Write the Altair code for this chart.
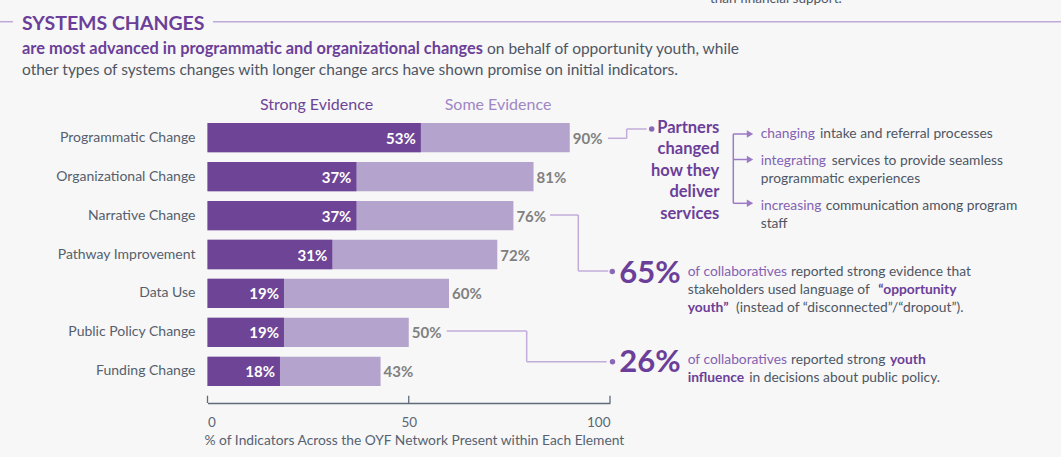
import altair as alt
import pandas as pd

# ---------------- data ----------------
categories = ["Programmatic Change", "Organizational Change", "Narrative Change",
              "Pathway Improvement", "Data Use", "Public Policy Change", "Funding Change"]
strong = [53, 37, 37, 31, 19, 19, 18]
total = [90, 81, 76, 72, 60, 50, 43]
x_ticks = [0, 50, 100]

# ---------------- layout constants ----------------
FULL_W, FULL_H = 1061, 457
L, T = 207.5, 106          # plot origin in page pixels
W, H = 402.5, 297          # plot area
FONT = "Lato"

DARK = "#6E4596"
LIGHT = "#B4A3CC"
PURPLE_TXT = "#6B3F99"
PURPLE_SOFT = "#8462B3"
GRAY_TXT = "#4E5664"
LINE_C = "#C2ADDA"
ARROW_C = "#9C7BC6"
BG = "#F7F7F7"
RS = 13.8   # right-hand annotation text size

df = pd.DataFrame({"cat": categories, "strong": strong, "total": total})
df["strong_lbl"] = df["strong"].astype(str) + "%"
df["total_lbl"] = df["total"].astype(str) + "%"

one = pd.DataFrame({"a": [0]})

xscale = alt.Scale(domain=[0, 100], nice=False, zero=True)
XAX = alt.Axis(values=x_ticks, grid=False, ticks=False, tickSize=0,
               domainColor="#5F6B7A", domainWidth=1.3,
               labelFont=FONT, labelFontSize=13.5, labelColor="#5A6675",
               labelPadding=12, labelFlush=True,
               title="% of Indicators Across the OYF Network Present within Each Element",
               titleFont=FONT, titleFontSize=13.8, titleFontWeight="normal",
               titleColor="#566272", titleAlign="left", titleAnchor="start",
               titleX=-3.5, titleY=37, titleBaseline="middle")


def xenc(field):
    return alt.X(field, scale=xscale, axis=XAX)


yenc = alt.Y("cat:N", sort=categories,
             scale=alt.Scale(paddingInner=0.248, paddingOuter=0.4366),
             axis=alt.Axis(title=None, ticks=False, domain=False, labelPadding=12.5,
                           labelFontSize=14, labelColor="#555F6D", labelFont=FONT))

base = alt.Chart(df)

light = base.mark_bar(color=LIGHT).encode(x=xenc("total:Q"), y=yenc)
dark = base.mark_bar(color=DARK).encode(x=xenc("strong:Q"), y=yenc)

dark_lbl = base.mark_text(font=FONT, fontSize=15, fontWeight="bold", color="white",
                          align="right", dx=-5, dy=1).encode(
    x=xenc("strong:Q"), y=yenc, text="strong_lbl:N")
tot_lbl = base.mark_text(font=FONT, fontSize=15, fontWeight="bold", color="#808080",
                         align="left", dx=3, dy=1).encode(
    x=xenc("total:Q"), y=yenc, text="total_lbl:N")

ticks = alt.Chart(pd.DataFrame({"t": x_ticks})).mark_rule(color="#5F6B7A", strokeWidth=1.3).encode(
    x=xenc("t:Q"),
    y=alt.value(395.7 - T), y2=alt.value(403 - T))


# ---------------- annotation helpers (page pixel coords) ----------------
def txt(s, px, py, size=RS, color=GRAY_TXT, weight="normal", align="left", baseline="middle"):
    return alt.Chart(one).mark_text(text=s, font=FONT, fontSize=size, color=color,
                                    fontWeight=weight, align=align, baseline=baseline).encode(
        x=alt.value(px - L), y=alt.value(py - T))


def seg(x1, y1, x2, y2, color=LINE_C, w=1.5):
    return alt.Chart(one).mark_rule(color=color, strokeWidth=w).encode(
        x=alt.value(x1 - L), y=alt.value(y1 - T), x2=alt.value(x2 - L), y2=alt.value(y2 - T))


def dot(px, py, color="#8B68B5", size=30):
    return alt.Chart(one).mark_point(filled=True, color=color, size=size, opacity=1).encode(
        x=alt.value(px - L), y=alt.value(py - T))


def arrow(px, py):
    return alt.Chart(one).mark_point(filled=True, color=ARROW_C, size=55, opacity=1,
                                     shape="triangle-right").encode(
        x=alt.value(px - L), y=alt.value(py - T))


ann = []
# header
ann += [seg(0, 21.7, 13, 21.7, color="#BFA9D6", w=1.5), seg(213, 21.7, 1061, 21.7, color="#BFA9D6", w=1.5)]
ann.append(txt("SYSTEMS CHANGES", 22, 29.5, size=19.5, color=PURPLE_TXT, weight="bold", baseline="alphabetic"))
ann.append(txt("than financial support.", 710, 3, size=13.5, color=GRAY_TXT, baseline="alphabetic"))
ann.append(txt("are most advanced in programmatic and organizational changes", 22, 54,
               size=16.4, color=PURPLE_TXT, weight="bold", baseline="alphabetic"))
ann.append(txt("on behalf of opportunity youth, while", 487, 54, size=15.5, baseline="alphabetic"))
ann.append(txt("other types of systems changes with longer change arcs have shown promise on initial indicators.",
               22, 75, size=15.5, baseline="alphabetic"))

# legend headers
ann.append(txt("Strong Evidence", 316.5, 105, size=16, color=DARK, align="center"))
ann.append(txt("Some Evidence", 498, 105, size=16, color="#9F86C4", align="center"))

# partners connector
ann += [seg(608, 138.3, 626.7, 138.3), seg(626.7, 138.3, 626.7, 129), seg(626.7, 129, 646.7, 129)]
ann.append(dot(651.7, 129))
for i, w_ in enumerate(["Partners", "changed", "how they", "deliver", "services"]):
    ann.append(txt(w_, 719.3, [128.3, 149.3, 170.5, 192.3, 214][i], size=16.5, color=PURPLE_TXT,
                   weight="bold", align="right"))

# bracket with arrows
ann.append(seg(733.3, 134, 733.3, 203.3, color=ARROW_C, w=1.5))
for yy in [134, 159.5, 203.3]:
    ann.append(seg(733.3, yy, 748, yy, color=ARROW_C, w=1.5))
    ann.append(arrow(750, yy))

ann.append(txt("changing", 760.7, 134.3, color=PURPLE_SOFT))
ann.append(txt("intake and referral processes", 820, 134.3))
ann.append(txt("integrating", 760.7, 160.7, color=PURPLE_SOFT))
ann.append(txt("services to provide seamless", 831.7, 160.7))
ann.append(txt("programmatic experiences", 760.7, 179.3))
ann.append(txt("increasing", 760.7, 206, color=PURPLE_SOFT))
ann.append(txt("communication among program", 825.7, 206))
ann.append(txt("staff", 760.7, 224.3))

# 65% callout
ann += [seg(550, 215, 578.3, 215), seg(578.3, 215, 578.3, 271), seg(578.3, 271, 608.3, 271)]
ann.append(dot(612.3, 271.5))
ann.append(txt("65%", 619.3, 283.3, size=31, color=PURPLE_TXT, weight="bold", baseline="alphabetic"))
ann.append(txt("of collaboratives", 687.7, 272.3, color=PURPLE_SOFT))
ann.append(txt("reported strong evidence that", 791, 272.3))
ann.append(txt("stakeholders used  language of", 687.7, 290))
ann.append(txt("\u201copportunity", 878.3, 290, color=PURPLE_TXT, weight="bold"))
ann.append(txt("youth\u201d", 687.7, 307.7, color=PURPLE_TXT, weight="bold"))
ann.append(txt("(instead of \u201cdisconnected\u201d/\u201cdropout\u201d).", 736, 307.7))

# 26% callout
ann += [seg(446.7, 331, 526.7, 331), seg(526.7, 331, 526.7, 361.7), seg(526.7, 361.7, 606.7, 361.7)]
ann.append(dot(612.5, 361.7))
ann.append(txt("26%", 619.3, 372.3, size=31, color=PURPLE_TXT, weight="bold", baseline="alphabetic"))
ann.append(txt("of collaboratives", 687.7, 360, color=PURPLE_SOFT))
ann.append(txt("reported strong", 791, 360))
ann.append(txt("youth", 890, 360, color=PURPLE_TXT, weight="bold"))
ann.append(txt("influence", 687.7, 378.3, color=PURPLE_TXT, weight="bold"))
ann.append(txt("in decisions about public policy.", 749.3, 378.3))

chart = alt.layer(light, dark, dark_lbl, tot_lbl, ticks, *ann).properties(
    width=W, height=H,
    autosize=alt.AutoSizeParams(type="none"),
    padding={"left": L, "top": T, "right": FULL_W - L - W, "bottom": FULL_H - T - H},
    background=BG,
).configure_view(stroke=None)

chart.save("out.html", embed_options={"renderer": "svg", "actions": False})
